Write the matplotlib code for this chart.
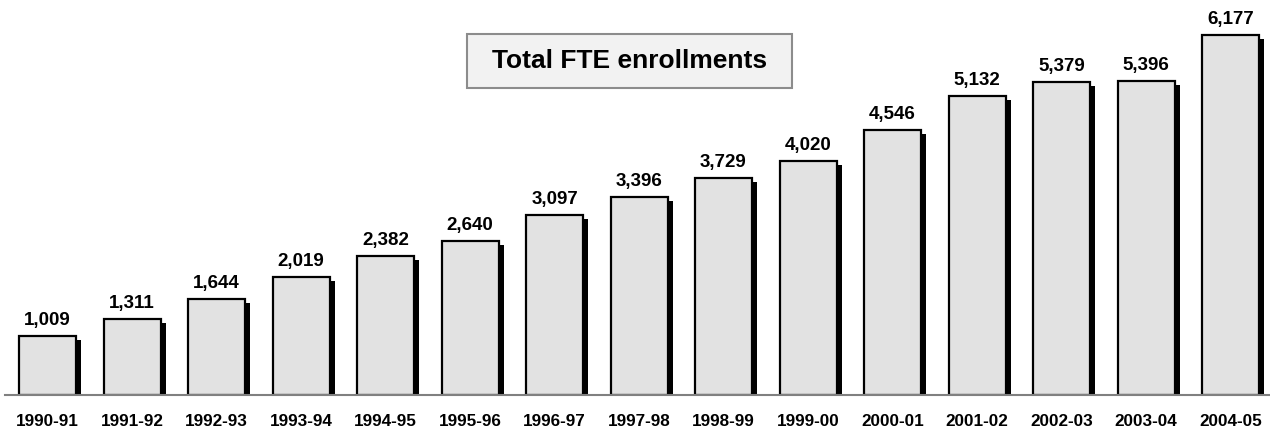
import matplotlib
matplotlib.use("Agg")
import matplotlib.pyplot as plt
from matplotlib.patches import Rectangle

years = ["1990-91", "1991-92", "1992-93", "1993-94", "1994-95", "1995-96", "1996-97",
         "1997-98", "1998-99", "1999-00", "2000-01", "2001-02", "2002-03", "2003-04", "2004-05"]
values = [1009, 1311, 1644, 2019, 2382, 2640, 3097, 3396, 3729, 4020, 4546, 5132, 5379, 5396, 6177]
title = "Total FTE enrollments"

plt.rcParams['font.family'] = ['Liberation Sans', 'DejaVu Sans']

W, H = 1270, 432
fig = plt.figure(figsize=(W / 100, H / 100), dpi=100)
left_px, base_px = 5, 395
ax = fig.add_axes([left_px / W, (H - base_px) / H, (W - left_px) / W, base_px / H])

px_per_x = 84.5
xmin = -(47.5 - left_px) / px_per_x
xmax = xmin + (W - left_px) / px_per_x
px_per_y = 0.0582
ymax = base_px / px_per_y
ax.set_xlim(xmin, xmax)
ax.set_ylim(0, ymax)

x = list(range(len(values)))
bw = 57 / px_per_x
sdx = 5 / px_per_x
sdy = 4 / px_per_y

ax.bar([xi + sdx for xi in x], [v - sdy for v in values], width=bw, color='black',
       edgecolor='black', linewidth=0, zorder=2)
ax.bar(x, values, width=bw, color='#e2e2e2', edgecolor='black', linewidth=1.6, zorder=3)

for xi, v in zip(x, values):
    ax.annotate(f"{v:,}", (xi, v), xytext=(0, 8), textcoords='offset points',
                ha='center', va='baseline', fontsize=13.5, fontweight='bold', zorder=4)

ax.set_xticks(x)
ax.set_xticklabels(years, fontsize=12.3, fontweight='bold')
ax.tick_params(axis='x', length=0, pad=14)
ax.set_yticks([])
for s in ['top', 'right', 'left']:
    ax.spines[s].set_visible(False)
ax.spines['bottom'].set_color('#808080')
ax.spines['bottom'].set_linewidth(1.5)
ax.spines['bottom'].set_zorder(5)
ax.set_facecolor('none')

# title box
bx0, by0, bx1, by1 = 467, 34, 792, 88
fig.add_artist(Rectangle((bx0 / W, 1 - by1 / H), (bx1 - bx0) / W, (by1 - by0) / H,
                         transform=fig.transFigure, facecolor='#f2f2f2',
                         edgecolor='#8c8c8c', linewidth=1.5, zorder=6))
fig.text((bx0 + bx1) / 2 / W, 1 - (by0 + by1) / 2 / H, title, ha='center', va='center',
         fontsize=19, fontweight='bold', zorder=7)

fig.savefig("out.png", dpi=100)
